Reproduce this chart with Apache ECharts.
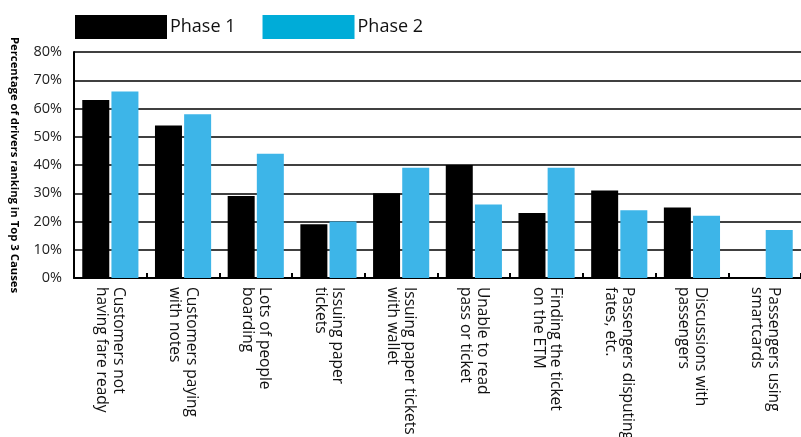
<!DOCTYPE html>
<html>
<head>
<meta charset="utf-8">
<script src="https://cdn.jsdelivr.net/npm/echarts@6/dist/echarts.min.js"></script>
<style>
  html, body { margin: 0; padding: 0; background: #fff; }
  #chart { width: 801px; height: 437px; }
</style>
</head>
<body>
<div id="chart"></div>
<script>
// Causes of delay, as ranked by drivers
const categories = [
  'Customers not\nhaving fare ready',
  'Customers paying\nwith notes',
  'Lots of people\nboarding',
  'Issuing paper\ntickets',
  'Issuing paper tickets\nwith wallet',
  'Unable to read\npass or ticket',
  'Finding the ticket\non the ETM',
  'Passengers disputing\nfates, etc.',
  'Discussions with\npassengers',
  'Passengers using\nsmartcards'
];
const phase1 = [63, 54, 29, 19, 30, 40, 23, 31, 25, 0];
const phase2 = [66, 58, 44, 20, 39, 26, 39, 24, 22, 17];
const yTicks = [0, 10, 20, 30, 40, 50, 60, 70, 80];

const FONT = 'Open Sans';
const chart = echarts.init(document.getElementById('chart'));
chart.setOption({
  animation: false,
  backgroundColor: '#fff',
  legend: {
    left: 75,
    top: 15,
    padding: 0,
    icon: 'rect',
    itemWidth: 92,
    itemHeight: 24,
    itemGap: 27,
    textStyle: { fontFamily: FONT, fontSize: 18, color: '#111', padding: [6, 0, 0, -2] },
    data: [
      { name: 'Phase 1', itemStyle: { color: '#000' } },
      { name: 'Phase 2', itemStyle: { color: '#00acd8' } }
    ]
  },
  grid: { left: 74, right: 0, top: 52, bottom: 159, containLabel: false, outerBoundsMode: 'none' },
  xAxis: {
    type: 'category',
    data: categories,
    axisLine: { lineStyle: { color: '#000', width: 2 } },
    axisTick: { show: true, inside: true, length: 5, lineStyle: { color: '#000', width: 2 } },
    axisLabel: {
      rotate: -90,
      margin: 9,
      interval: 0,
      fontFamily: FONT,
      fontSize: 15.5,
      lineHeight: 17,
      color: '#111'
    }
  },
  yAxis: {
    type: 'value',
    min: 0,
    max: 80,
    interval: 10,
    name: 'Percentage of drivers ranking in Top 3 Causes',
    nameLocation: 'middle',
    nameRotate: -90,
    nameGap: 54,
    nameTextStyle: { fontFamily: FONT, fontSize: 11.3, fontWeight: 'bold', color: '#000' },
    axisLine: { show: true, lineStyle: { color: '#000', width: 2 } },
    axisTick: { show: false },
    axisLabel: {
      margin: 12,
      fontFamily: FONT,
      fontSize: 14.5,
      color: '#222',
      formatter: v => yTicks.includes(v) ? v + '%' : ''
    },
    splitLine: { show: true, lineStyle: { color: '#000', width: 1.5 } }
  },
  series: [
    {
      name: 'Phase 1',
      type: 'bar',
      data: phase1,
      barWidth: 27,
      barGap: '8%',
      itemStyle: { color: '#000' }
    },
    {
      name: 'Phase 2',
      type: 'bar',
      data: phase2,
      barWidth: 27,
      itemStyle: { color: '#3db5e8' }
    }
  ]
});
</script>
</body>
</html>
